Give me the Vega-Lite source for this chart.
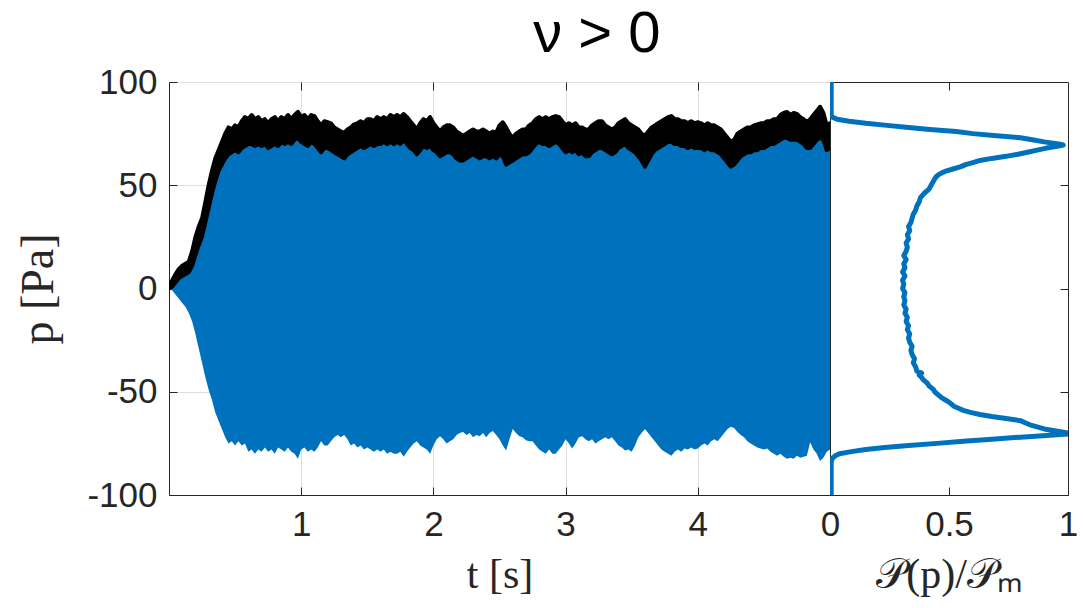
{
"$schema": "https://vega.github.io/schema/vega-lite/v6.json",
"background": "white",
"padding": {"left": 15, "top": 5, "right": 5, "bottom": 5},
"bounds": "flush",
"title": {"text": "ν  > 0", "fontSize": 58, "font": "Liberation Sans", "fontWeight": "normal", "color": "#000000", "anchor": "middle", "dx": 50, "offset": 1},
"config": {
  "view": {"stroke": "#262626", "strokeWidth": 1},
  "axis": {"labelFont": "Liberation Sans", "labelFontSize": 35, "labelColor": "#262626", "titleFont": "Liberation Serif", "titleFontSize": 42, "titleFontWeight": "normal", "titleColor": "#262626", "domainColor": "#262626", "tickColor": "#262626", "tickSize": -8, "gridColor": "#dedede", "labelPadding": 20, "labelFlush": false}
},
"spacing": 0,
"datasets": {
"ts": [
{"t":0.000,"env":1,"hi":0,"lo":0},
{"t":0.025,"env":4,"hi":1,"lo":-1},
{"t":0.050,"env":7,"hi":3,"lo":-3},
{"t":0.075,"env":9.5,"hi":5,"lo":-5},
{"t":0.100,"env":11,"hi":6,"lo":-7},
{"t":0.125,"env":12,"hi":7,"lo":-9},
{"t":0.150,"env":13,"hi":8,"lo":-12},
{"t":0.175,"env":18,"hi":11,"lo":-16},
{"t":0.200,"env":25,"hi":16,"lo":-22},
{"t":0.225,"env":30,"hi":21,"lo":-29},
{"t":0.250,"env":34,"hi":25,"lo":-36},
{"t":0.275,"env":42,"hi":32,"lo":-43},
{"t":0.300,"env":50,"hi":39,"lo":-49},
{"t":0.325,"env":57,"hi":46,"lo":-54},
{"t":0.350,"env":63,"hi":52,"lo":-60},
{"t":0.375,"env":67,"hi":57,"lo":-64},
{"t":0.400,"env":71,"hi":60,"lo":-68},
{"t":0.425,"env":75,"hi":63,"lo":-72},
{"t":0.450,"env":78,"hi":65,"lo":-75},
{"t":0.475,"env":77,"hi":66,"lo":-74},
{"t":0.500,"env":79,"hi":67,"lo":-76},
{"t":0.525,"env":78,"hi":66,"lo":-74},
{"t":0.550,"env":81,"hi":68,"lo":-76},
{"t":0.575,"env":83,"hi":69,"lo":-75},
{"t":0.600,"env":82,"hi":70,"lo":-79},
{"t":0.625,"env":84,"hi":70,"lo":-78},
{"t":0.650,"env":82,"hi":69,"lo":-80},
{"t":0.675,"env":83,"hi":70,"lo":-78},
{"t":0.700,"env":81,"hi":69,"lo":-79},
{"t":0.725,"env":82,"hi":70,"lo":-77},
{"t":0.750,"env":80,"hi":68,"lo":-79},
{"t":0.775,"env":82,"hi":69,"lo":-78},
{"t":0.800,"env":83,"hi":70,"lo":-80},
{"t":0.825,"env":81,"hi":69,"lo":-77},
{"t":0.850,"env":83,"hi":71,"lo":-78},
{"t":0.875,"env":82,"hi":70,"lo":-79},
{"t":0.900,"env":84,"hi":71,"lo":-77},
{"t":0.925,"env":82,"hi":70,"lo":-79},
{"t":0.950,"env":84,"hi":72,"lo":-80},
{"t":0.975,"env":85.5,"hi":73,"lo":-82.5},
{"t":1.000,"env":83,"hi":71,"lo":-78},
{"t":1.025,"env":84,"hi":70,"lo":-77},
{"t":1.050,"env":82,"hi":69,"lo":-79},
{"t":1.075,"env":84,"hi":71,"lo":-78},
{"t":1.100,"env":83.5,"hi":70,"lo":-79},
{"t":1.125,"env":81,"hi":68,"lo":-77},
{"t":1.150,"env":79,"hi":66,"lo":-74},
{"t":1.175,"env":81,"hi":68,"lo":-76},
{"t":1.200,"env":80.5,"hi":68,"lo":-76},
{"t":1.225,"env":80,"hi":67,"lo":-74},
{"t":1.250,"env":78,"hi":66,"lo":-72},
{"t":1.275,"env":77,"hi":65,"lo":-71},
{"t":1.300,"env":76,"hi":64,"lo":-72},
{"t":1.325,"env":75.5,"hi":63,"lo":-71},
{"t":1.350,"env":77,"hi":65,"lo":-73},
{"t":1.375,"env":78,"hi":66,"lo":-76},
{"t":1.400,"env":79.5,"hi":67,"lo":-75},
{"t":1.425,"env":80,"hi":68,"lo":-77},
{"t":1.450,"env":81,"hi":69,"lo":-76},
{"t":1.475,"env":80,"hi":68,"lo":-78},
{"t":1.500,"env":82,"hi":69,"lo":-77},
{"t":1.525,"env":82,"hi":70,"lo":-78},
{"t":1.550,"env":81,"hi":69,"lo":-79},
{"t":1.575,"env":83,"hi":70,"lo":-78},
{"t":1.600,"env":82,"hi":70,"lo":-79},
{"t":1.625,"env":83,"hi":71,"lo":-78},
{"t":1.650,"env":82,"hi":70,"lo":-80},
{"t":1.675,"env":84,"hi":71,"lo":-79},
{"t":1.700,"env":83,"hi":70,"lo":-80},
{"t":1.725,"env":84,"hi":71,"lo":-80},
{"t":1.750,"env":83,"hi":70,"lo":-79},
{"t":1.775,"env":84.5,"hi":72,"lo":-81.5},
{"t":1.800,"env":83,"hi":70,"lo":-79},
{"t":1.825,"env":81,"hi":68,"lo":-77},
{"t":1.850,"env":79,"hi":67,"lo":-75},
{"t":1.875,"env":77,"hi":65,"lo":-74},
{"t":1.900,"env":80,"hi":67,"lo":-76},
{"t":1.925,"env":82,"hi":69,"lo":-77},
{"t":1.950,"env":81,"hi":68,"lo":-78},
{"t":1.975,"env":83,"hi":69,"lo":-80},
{"t":2.000,"env":80,"hi":67,"lo":-76},
{"t":2.025,"env":78,"hi":66,"lo":-73},
{"t":2.050,"env":76,"hi":64,"lo":-71.5},
{"t":2.075,"env":78,"hi":65,"lo":-73},
{"t":2.100,"env":79,"hi":66,"lo":-75},
{"t":2.125,"env":79,"hi":66,"lo":-74},
{"t":2.150,"env":78,"hi":65,"lo":-73},
{"t":2.175,"env":76,"hi":63,"lo":-71},
{"t":2.200,"env":75,"hi":62,"lo":-70},
{"t":2.225,"env":74,"hi":62,"lo":-69.5},
{"t":2.250,"env":75,"hi":63,"lo":-71},
{"t":2.275,"env":76,"hi":64,"lo":-70},
{"t":2.300,"env":77,"hi":65,"lo":-72},
{"t":2.325,"env":76,"hi":64,"lo":-71},
{"t":2.350,"env":76,"hi":63,"lo":-71.5},
{"t":2.375,"env":77,"hi":64,"lo":-70},
{"t":2.400,"env":76,"hi":64,"lo":-72},
{"t":2.425,"env":75,"hi":63,"lo":-70},
{"t":2.450,"env":76,"hi":64,"lo":-69},
{"t":2.475,"env":75.5,"hi":63,"lo":-71},
{"t":2.500,"env":79,"hi":65,"lo":-73},
{"t":2.525,"env":80.5,"hi":64,"lo":-76},
{"t":2.550,"env":78,"hi":60,"lo":-78.5},
{"t":2.575,"env":75,"hi":61,"lo":-73},
{"t":2.600,"env":73,"hi":62,"lo":-68},
{"t":2.625,"env":75,"hi":63,"lo":-70},
{"t":2.650,"env":76,"hi":64,"lo":-71.5},
{"t":2.675,"env":77,"hi":65,"lo":-72},
{"t":2.700,"env":77,"hi":65,"lo":-73.5},
{"t":2.725,"env":79,"hi":66,"lo":-74},
{"t":2.750,"env":80,"hi":68,"lo":-74},
{"t":2.775,"env":82,"hi":70,"lo":-76},
{"t":2.800,"env":83,"hi":71,"lo":-78},
{"t":2.825,"env":82,"hi":70,"lo":-79},
{"t":2.850,"env":83,"hi":70,"lo":-80},
{"t":2.875,"env":82,"hi":69,"lo":-78},
{"t":2.900,"env":83,"hi":70,"lo":-80},
{"t":2.925,"env":83.5,"hi":71,"lo":-80},
{"t":2.950,"env":83,"hi":70,"lo":-78},
{"t":2.975,"env":81,"hi":68,"lo":-76},
{"t":3.000,"env":79,"hi":66,"lo":-73},
{"t":3.025,"env":80,"hi":67,"lo":-75},
{"t":3.050,"env":79,"hi":66,"lo":-77.5},
{"t":3.075,"env":80,"hi":67,"lo":-75},
{"t":3.100,"env":78,"hi":65,"lo":-72},
{"t":3.125,"env":78,"hi":66,"lo":-71.5},
{"t":3.150,"env":77,"hi":64,"lo":-73},
{"t":3.175,"env":77,"hi":64,"lo":-74},
{"t":3.200,"env":79,"hi":66,"lo":-73},
{"t":3.225,"env":80,"hi":67,"lo":-75},
{"t":3.250,"env":81,"hi":68,"lo":-74},
{"t":3.275,"env":81,"hi":68,"lo":-73},
{"t":3.300,"env":79,"hi":67,"lo":-72},
{"t":3.325,"env":78,"hi":66,"lo":-73},
{"t":3.350,"env":77,"hi":65,"lo":-72},
{"t":3.375,"env":78,"hi":66,"lo":-74},
{"t":3.400,"env":80,"hi":68,"lo":-76},
{"t":3.425,"env":81,"hi":69,"lo":-77},
{"t":3.450,"env":82,"hi":70,"lo":-78.5},
{"t":3.475,"env":80,"hi":68,"lo":-78},
{"t":3.500,"env":79,"hi":67,"lo":-79},
{"t":3.525,"env":78,"hi":66,"lo":-76},
{"t":3.550,"env":77,"hi":64,"lo":-72},
{"t":3.575,"env":75,"hi":62,"lo":-70},
{"t":3.600,"env":74,"hi":59,"lo":-68},
{"t":3.625,"env":76,"hi":62,"lo":-70},
{"t":3.650,"env":78,"hi":65,"lo":-72},
{"t":3.675,"env":79,"hi":67,"lo":-74},
{"t":3.700,"env":80,"hi":68,"lo":-76},
{"t":3.725,"env":81,"hi":69,"lo":-78},
{"t":3.750,"env":82,"hi":70,"lo":-79},
{"t":3.775,"env":83,"hi":71,"lo":-80},
{"t":3.800,"env":83.5,"hi":71,"lo":-81},
{"t":3.825,"env":82,"hi":70,"lo":-79},
{"t":3.850,"env":82,"hi":70,"lo":-78},
{"t":3.875,"env":81,"hi":69,"lo":-79},
{"t":3.900,"env":81,"hi":69,"lo":-77.5},
{"t":3.925,"env":80,"hi":68,"lo":-78},
{"t":3.950,"env":81,"hi":69,"lo":-77},
{"t":3.975,"env":80,"hi":68,"lo":-78},
{"t":4.000,"env":80.5,"hi":68,"lo":-77.5},
{"t":4.025,"env":80,"hi":68,"lo":-76},
{"t":4.050,"env":79,"hi":67,"lo":-75},
{"t":4.075,"env":80,"hi":68,"lo":-76},
{"t":4.100,"env":79,"hi":67,"lo":-74},
{"t":4.125,"env":79,"hi":67,"lo":-73},
{"t":4.150,"env":78,"hi":66,"lo":-74},
{"t":4.175,"env":77,"hi":65,"lo":-72},
{"t":4.200,"env":75,"hi":63,"lo":-70},
{"t":4.225,"env":73,"hi":61,"lo":-68},
{"t":4.250,"env":71,"hi":59,"lo":-67},
{"t":4.275,"env":72,"hi":60,"lo":-67.5},
{"t":4.300,"env":75,"hi":62,"lo":-69.5},
{"t":4.325,"env":76,"hi":64,"lo":-71},
{"t":4.350,"env":77,"hi":65,"lo":-72},
{"t":4.375,"env":78,"hi":66,"lo":-74},
{"t":4.400,"env":78,"hi":66,"lo":-75},
{"t":4.425,"env":79,"hi":67,"lo":-76},
{"t":4.450,"env":79.5,"hi":67,"lo":-77},
{"t":4.475,"env":80,"hi":68,"lo":-77.5},
{"t":4.500,"env":80,"hi":68,"lo":-78},
{"t":4.525,"env":81,"hi":69,"lo":-77.5},
{"t":4.550,"env":81,"hi":70,"lo":-79},
{"t":4.575,"env":82,"hi":70,"lo":-80},
{"t":4.600,"env":82,"hi":71,"lo":-81},
{"t":4.625,"env":84,"hi":72,"lo":-80},
{"t":4.650,"env":85,"hi":73,"lo":-81.5},
{"t":4.675,"env":85.5,"hi":73,"lo":-82.5},
{"t":4.700,"env":84,"hi":72,"lo":-82},
{"t":4.725,"env":85,"hi":72,"lo":-82.5},
{"t":4.750,"env":84.5,"hi":72,"lo":-81},
{"t":4.775,"env":83,"hi":71,"lo":-82},
{"t":4.800,"env":82,"hi":70,"lo":-81.5},
{"t":4.825,"env":80.5,"hi":68,"lo":-81},
{"t":4.850,"env":82,"hi":68,"lo":-74.5},
{"t":4.875,"env":84,"hi":70,"lo":-78},
{"t":4.900,"env":86,"hi":72,"lo":-80},
{"t":4.925,"env":88,"hi":73,"lo":-83.5},
{"t":4.950,"env":85,"hi":72,"lo":-82},
{"t":4.975,"env":79,"hi":67,"lo":-79},
{"t":5.000,"env":80,"hi":68,"lo":-78}
],
"pdf": [
{"p":-100,"P":0.005},{"p":-90,"P":0.005},{"p":-84,"P":0.005},{"p":-83,"P":0.007},
{"p":-82,"P":0.012},{"p":-81,"P":0.022},{"p":-80,"P":0.04},{"p":-79,"P":0.09},
{"p":-78,"P":0.15},{"p":-77,"P":0.23},{"p":-76,"P":0.33},{"p":-75,"P":0.45},
{"p":-74,"P":0.56},{"p":-73,"P":0.68},{"p":-72,"P":0.8},{"p":-71,"P":0.94},
{"p":-70.5,"P":1.0},{"p":-70,"P":1.0},{"p":-69,"P":0.95},{"p":-68,"P":0.9},
{"p":-67,"P":0.87},{"p":-66,"P":0.84},{"p":-65,"P":0.82},{"p":-64,"P":0.8},
{"p":-63,"P":0.74},{"p":-62,"P":0.68},{"p":-61,"P":0.63},{"p":-60,"P":0.59},
{"p":-59,"P":0.56},{"p":-58,"P":0.54},{"p":-57,"P":0.52},{"p":-56,"P":0.51},
{"p":-55,"P":0.5},{"p":-54,"P":0.485},{"p":-53,"P":0.47},{"p":-52,"P":0.46},
{"p":-51,"P":0.45},{"p":-50,"P":0.44},{"p":-49,"P":0.435},{"p":-48,"P":0.425},
{"p":-47,"P":0.415},{"p":-46,"P":0.41},{"p":-45,"P":0.4},{"p":-44,"P":0.39},
{"p":-43,"P":0.385},{"p":-42,"P":0.375},{"p":-41,"P":0.385},{"p":-40,"P":0.365},
{"p":-38,"P":0.36},{"p":-36,"P":0.35},{"p":-34,"P":0.355},{"p":-32,"P":0.345},
{"p":-30,"P":0.34},{"p":-28,"P":0.345},{"p":-26,"P":0.335},{"p":-24,"P":0.33},
{"p":-22,"P":0.335},{"p":-20,"P":0.325},{"p":-18,"P":0.33},{"p":-16,"P":0.32},
{"p":-14,"P":0.325},{"p":-12,"P":0.315},{"p":-10,"P":0.32},{"p":-8,"P":0.31},
{"p":-6,"P":0.315},{"p":-4,"P":0.31},{"p":-2,"P":0.315},{"p":0,"P":0.305},
{"p":2,"P":0.31},{"p":4,"P":0.305},{"p":6,"P":0.315},{"p":8,"P":0.305},
{"p":10,"P":0.315},{"p":12,"P":0.31},{"p":14,"P":0.32},{"p":16,"P":0.31},
{"p":18,"P":0.32},{"p":20,"P":0.325},{"p":22,"P":0.32},{"p":24,"P":0.33},
{"p":26,"P":0.325},{"p":28,"P":0.335},{"p":30,"P":0.33},{"p":32,"P":0.34},
{"p":34,"P":0.345},{"p":36,"P":0.35},{"p":38,"P":0.36},{"p":40,"P":0.365},
{"p":42,"P":0.375},{"p":44,"P":0.38},{"p":46,"P":0.395},{"p":48,"P":0.415},
{"p":50,"P":0.425},{"p":52,"P":0.435},{"p":54,"P":0.445},{"p":55,"P":0.455},
{"p":56,"P":0.47},{"p":57,"P":0.49},{"p":58,"P":0.52},{"p":59,"P":0.55},
{"p":60,"P":0.57},{"p":61,"P":0.6},{"p":62,"P":0.63},{"p":63,"P":0.68},
{"p":64,"P":0.74},{"p":65,"P":0.79},{"p":66,"P":0.83},{"p":67,"P":0.87},
{"p":68,"P":0.91},{"p":69,"P":0.96},{"p":69.5,"P":0.98},{"p":70,"P":0.96},
{"p":71,"P":0.9},{"p":72,"P":0.85},{"p":73,"P":0.8},{"p":74,"P":0.7},
{"p":75,"P":0.6},{"p":76,"P":0.53},{"p":77,"P":0.42},{"p":78,"P":0.33},
{"p":79,"P":0.24},{"p":80,"P":0.15},{"p":81,"P":0.08},{"p":82,"P":0.03},
{"p":83,"P":0.01},{"p":84,"P":0.005},{"p":90,"P":0.005},{"p":100,"P":0.005}
]
},
"hconcat": [
{
  "width": 661, "height": 413,
  "data": {"name": "ts"},
  "layer": [
    {"mark": {"type": "area", "color": "#0072BD", "clip": true},
     "encoding": {
       "x": {"field": "t", "type": "quantitative", "scale": {"domain": [0, 5], "nice": false},
             "axis": {"values": [1, 2, 3, 4], "title": "t [s]", "grid": true, "titlePadding": 12}},
       "y": {"field": "lo", "type": "quantitative", "scale": {"domain": [-100, 100], "nice": false},
             "axis": {"values": [-100, -50, 0, 50, 100], "title": "p [Pa]", "titleFontSize": 46, "grid": true, "titlePadding": 24, "labelExpr": "replace(datum.label, '−', '-')"}},
       "y2": {"field": "hi"}
     }},
    {"mark": {"type": "area", "color": "#000000", "stroke": "#000000", "strokeWidth": 4, "strokeJoin": "round", "strokeCap": "round", "clip": true},
     "encoding": {
       "x": {"field": "t", "type": "quantitative", "axis": null},
       "y": {"field": "hi", "type": "quantitative", "axis": null},
       "y2": {"field": "env"}
     }},
    {"mark": {"type": "point", "opacity": 0},
     "encoding": {
       "x": {"field": "t", "type": "quantitative", "axis": {"orient": "top", "values": [1, 2, 3, 4], "labels": false, "title": null, "grid": false, "domain": false, "minExtent": 0, "maxExtent": 0}},
       "y": {"field": "env", "type": "quantitative", "axis": {"orient": "right", "values": [-50, 0, 50], "labels": false, "title": null, "grid": false, "domain": false, "minExtent": 0, "maxExtent": 0}}
     }}
  ],
  "resolve": {"axis": {"x": "independent", "y": "independent"}}
},
{
  "width": 238, "height": 413,
  "data": {"name": "pdf"},
  "layer": [
    {"mark": {"type": "line", "color": "#0072BD", "strokeWidth": 5, "strokeJoin": "round", "clip": true},
     "encoding": {
       "x": {"field": "P", "type": "quantitative", "scale": {"domain": [0, 1], "nice": false},
             "axis": {"values": [0, 0.5, 1], "format": "~g", "title": "𝒫(p)/𝒫ₘ", "grid": false, "titlePadding": 12}},
       "y": {"field": "p", "type": "quantitative", "scale": {"domain": [-100, 100], "nice": false}, "axis": null},
       "order": {"field": "p", "type": "quantitative"}
     }},
    {"mark": {"type": "point", "opacity": 0},
     "encoding": {
       "x": {"field": "P", "type": "quantitative", "axis": {"orient": "top", "values": [0.5], "labels": false, "title": null, "grid": false, "domain": false, "minExtent": 0, "maxExtent": 0}},
       "y": {"field": "p", "type": "quantitative", "axis": {"orient": "right", "values": [-50, 0, 50], "labels": false, "title": null, "grid": false, "domain": false, "minExtent": 0, "maxExtent": 0}}
     }}
  ],
  "resolve": {"axis": {"x": "independent", "y": "independent"}}
}
]
}
